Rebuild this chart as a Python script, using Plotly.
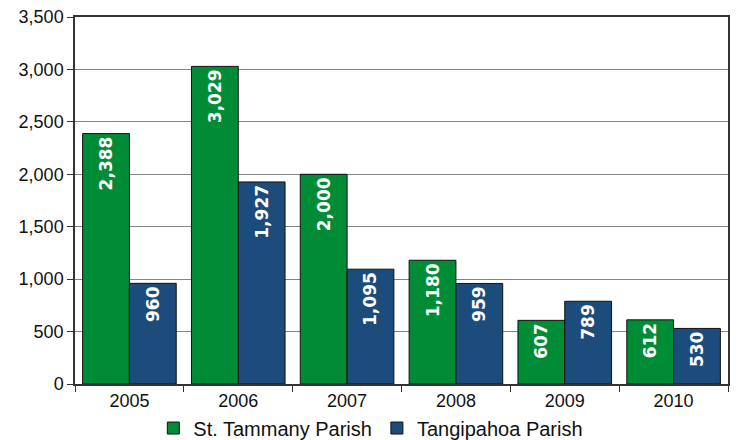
import plotly.graph_objs as go

years = ["2005", "2006", "2007", "2008", "2009", "2010"]
st_tammany = [2388, 3029, 2000, 1180, 607, 612]
tangipahoa = [960, 1927, 1095, 959, 789, 530]

green = "#008C37"
blue = "#1C4C7C"

fig = go.Figure()

for name, vals, col in [("St. Tammany Parish", st_tammany, green),
                        ("Tangipahoa Parish", tangipahoa, blue)]:
    fig.add_trace(go.Bar(
        x=years,
        y=vals,
        name=name,
        marker=dict(color=col, line=dict(color="#111111", width=1)),
        text=[f"{v:,}" for v in vals],
        textposition="inside",
        insidetextanchor="end",
        textangle=-90,
        textfont=dict(family="DejaVu Sans", size=17, color="white", weight="bold"),
        cliponaxis=False,
    ))

fig.update_layout(
    width=740,
    height=440,
    margin=dict(l=75, r=12, t=17, b=56, autoexpand=False),
    barmode="group",
    bargap=0.14,
    bargroupgap=0,
    plot_bgcolor="white",
    paper_bgcolor="white",
    font=dict(family="Liberation Sans", size=18, color="#111111"),
    uniformtext=dict(minsize=10, mode="show"),
    legend=dict(
        orientation="h",
        x=0.453,
        xanchor="center",
        y=-0.12,
        yanchor="middle",
        font=dict(family="Liberation Sans", size=20),
        itemwidth=30,
    ),
)

fig.update_yaxes(
    range=[0, 3500],
    dtick=500,
    tickformat=",",
    tickfont=dict(family="Liberation Sans", size=18),
    showgrid=True,
    gridcolor="#858585",
    gridwidth=1,
    showline=True,
    linecolor="#333333",
    linewidth=1.5,
    mirror=True,
    ticks="outside",
    ticklen=6,
    tickcolor="#333333",
    zeroline=False,
)
fig.update_xaxes(
    tickfont=dict(family="Liberation Sans", size=18),
    showline=True,
    linecolor="#333333",
    linewidth=1.5,
    mirror=True,
    ticks="outside",
    tickson="boundaries",
    ticklen=6,
    tickcolor="#333333",
)

# drop the default 8px body margin so the figure fills the window
fig.write_html("out.html", config={"displayModeBar": False},
               post_script="document.body.style.margin='0';")
